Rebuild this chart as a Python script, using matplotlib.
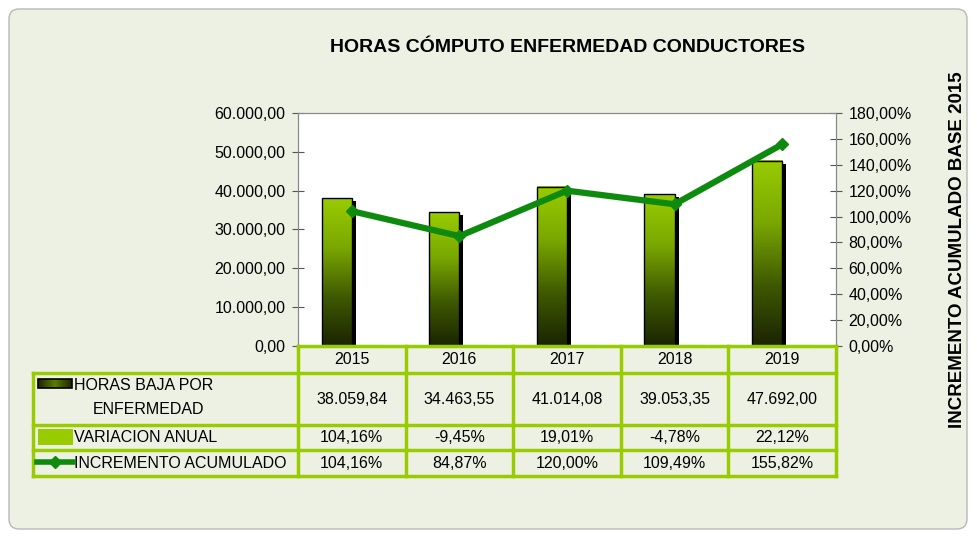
import matplotlib.pyplot as plt
import numpy as np
from matplotlib.patches import Rectangle, FancyBboxPatch
from matplotlib.colors import LinearSegmentedColormap
from matplotlib.ticker import FuncFormatter
import matplotlib.transforms as mtransforms

plt.rcParams['font.family'] = ['Liberation Sans', 'DejaVu Sans']

years = ['2015', '2016', '2017', '2018', '2019']
horas = [38059.84, 34463.55, 41014.08, 39053.35, 47692.00]
variacion = [1.0416, -0.0945, 0.1901, -0.0478, 0.2212]
incremento = [1.0416, 0.8487, 1.2000, 1.0949, 1.5582]

horas_txt = ['38.059,84', '34.463,55', '41.014,08', '39.053,35', '47.692,00']
var_txt = ['104,16%', '-9,45%', '19,01%', '-4,78%', '22,12%']
inc_txt = ['104,16%', '84,87%', '120,00%', '109,49%', '155,82%']

W, H = 977, 537
bg = '#edf1e4'
lime = '#99cc00'
line_green = '#0e8a0e'
tbl = '#99cc00'

fig = plt.figure(figsize=(W / 100, H / 100), dpi=100)
fig.patch.set_facecolor('white')

# background panel in pixel coordinates
bgax = fig.add_axes([0, 0, 1, 1])
bgax.set_xlim(0, W)
bgax.set_ylim(H, 0)
bgax.axis('off')
bgax.add_patch(FancyBboxPatch((9, 9), 958, 520, boxstyle='round,pad=0,rounding_size=10',
                              facecolor=bg, edgecolor='#b8b8b8', linewidth=1))

L, R, T, B = 298, 836, 113, 346
ax = fig.add_axes([L / W, 1 - B / H, (R - L) / W, (B - T) / H])
ax.set_facecolor('white')
ax.set_xlim(-0.5, 4.5)
ax.set_ylim(0, 60000)

cmap = LinearSegmentedColormap.from_list('g', ['#1a2400', '#3f5a00', '#7aa800', '#99cc00'])
grad = np.linspace(0, 1, 256).reshape(-1, 1)
x = np.arange(len(years))
bw = 0.28
shadow = mtransforms.offset_copy(ax.transData, fig=fig, x=4, y=-3, units='dots')
for i, h in enumerate(horas):
    x0 = x[i] - bw
    ax.add_patch(Rectangle((x0, 0), bw, h, facecolor='black', edgecolor='none',
                           transform=shadow, zorder=2))
    ax.imshow(grad, extent=[x0, x0 + bw, 0, h], origin='lower', cmap=cmap,
              aspect='auto', zorder=3)
    ax.add_patch(Rectangle((x0, 0), bw, h, facecolor='none', edgecolor='black',
                           linewidth=1, zorder=4))
# variacion anual (tiny on this scale)
ax.bar(x + bw / 2, variacion, bw, color=lime, edgecolor=lime, linewidth=1.5, zorder=3)
ax.set_xlim(-0.5, 4.5)
ax.set_ylim(0, 60000)
ax.set_xticks([])
ax.set_yticks(np.arange(0, 60001, 10000))
ax.yaxis.set_major_formatter(FuncFormatter(
    lambda v, p: f'{v:,.2f}'.replace(',', 'X').replace('.', ',').replace('X', '.')))
ax.tick_params(axis='y', direction='inout', length=8, color='#555555', labelsize=11.5, pad=5)

ax2 = ax.twinx()
ax2.plot(x, incremento, color=line_green, linewidth=4.5, marker='D', markersize=6, zorder=5)
ax2.set_ylim(0, 1.8)
ax2.set_yticks(np.arange(0, 1.81, 0.2))
ax2.yaxis.set_major_formatter(FuncFormatter(lambda v, p: f'{v * 100:.2f}%'.replace('.', ',')))
ax2.tick_params(axis='y', direction='inout', length=8, color='#555555', labelsize=11.5, pad=5)
for a in (ax, ax2):
    for s in a.spines.values():
        s.set_color('#888888')
    a.spines['bottom'].set_visible(False)

fig.text(568 / W, 1 - 47 / H, 'HORAS CÓMPUTO ENFERMEDAD CONDUCTORES', ha='center', va='center',
         fontsize=14, fontweight='bold')
fig.text(957 / W, 1 - 250 / H, 'INCREMENTO ACUMULADO BASE 2015', ha='center', va='center',
         rotation=90, fontsize=13.5, fontweight='bold')

# data table
tax = fig.add_axes([0, 0, 1, 1], zorder=10)
tax.set_xlim(0, W)
tax.set_ylim(H, 0)
tax.axis('off')
cols = np.linspace(L, R, len(years) + 1)
rows = [346, 373, 425, 450, 476]
lw = 2.5
tax.plot([L, R], [rows[0], rows[0]], color=tbl, lw=lw)
for yy in rows[1:]:
    tax.plot([33, R], [yy, yy], color=tbl, lw=lw)
for xx in cols:
    tax.plot([xx, xx], [rows[0], rows[-1]], color=tbl, lw=lw)
tax.plot([33, 33], [rows[1], rows[-1]], color=tbl, lw=lw)

for i in range(len(years)):
    cx = (cols[i] + cols[i + 1]) / 2
    tax.text(cx, (rows[0] + rows[1]) / 2, years[i], ha='center', va='center', fontsize=11.5)
    tax.text(cx, (rows[1] + rows[2]) / 2, horas_txt[i], ha='center', va='center', fontsize=11.5)
    tax.text(cx, (rows[2] + rows[3]) / 2, var_txt[i], ha='center', va='center', fontsize=11.5)
    tax.text(cx, (rows[3] + rows[4]) / 2, inc_txt[i], ha='center', va='center', fontsize=11.5)

# legend keys
tax.imshow(grad.T, extent=[38, 72, 388, 379], cmap=LinearSegmentedColormap.from_list(
    'h', ['#1c2600', '#5a7d00', '#1c2600']), aspect='auto', zorder=11)
tax.add_patch(Rectangle((38, 379), 34, 9, facecolor='none', edgecolor='black', lw=1.2, zorder=12))
tax.add_patch(Rectangle((38, 429), 35, 16, facecolor=lime, edgecolor='none', zorder=11))
tax.plot([37, 73], [462, 462], color=line_green, lw=4, zorder=11)
tax.plot([55], [462], marker='D', color=line_green, markersize=6, zorder=12)
tax.set_xlim(0, W)
tax.set_ylim(H, 0)

tax.text(74, 386, 'HORAS BAJA POR', ha='left', va='center', fontsize=11.5)
tax.text(148, 410, 'ENFERMEDAD', ha='center', va='center', fontsize=11.5)
tax.text(74, 437, 'VARIACION ANUAL', ha='left', va='center', fontsize=11.5)
tax.text(74, 463, 'INCREMENTO ACUMULADO', ha='left', va='center', fontsize=11.5)

fig.savefig('out.png', dpi=100, facecolor=fig.get_facecolor())
